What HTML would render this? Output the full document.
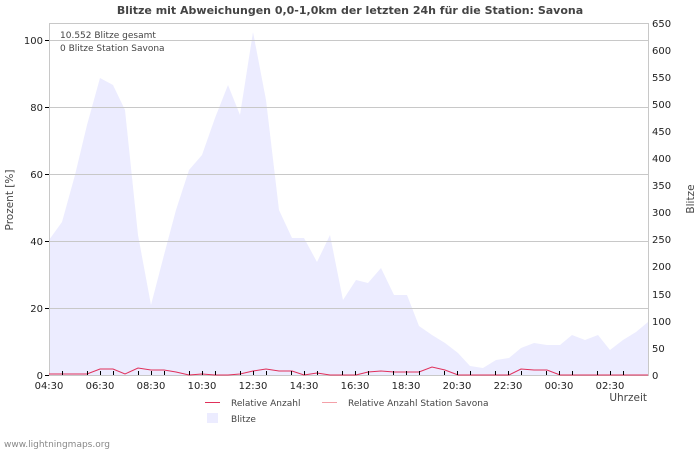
<!DOCTYPE html>
<html><head><meta charset="utf-8"><style>
body{margin:0;background:#fff;}
svg text{font-family:"DejaVu Sans","Liberation Sans",sans-serif;}
</style></head><body>
<svg width="700" height="450" viewBox="0 0 700 450" xmlns="http://www.w3.org/2000/svg">
<rect width="700" height="450" fill="#fff"/>
<text x="350" y="14" font-size="11" font-weight="bold" fill="#444" text-anchor="middle">Blitze mit Abweichungen 0,0-1,0km der letzten 24h für die Station: Savona</text>
<polygon fill="#ececff" points="49,375 49,240 62,222 75,175 87,125 100,78 113,85 125,110 138,235 151,305 164,255 176,210 189,170 202,155 215,118 228,85 240,115 253,32 266,100 279,210 292,238 304,238 317,262 330,235 343,300 356,280 368,283 381,268 394,295 407,295 419,326 432,335 445,343 458,353 470,366 483,368 496,360 509,358 521,348 534,343 547,345 560,345 572,335 585,340 598,335 610,350 623,340 636,332 648,322 648,375"/>
<g stroke="#c8c8c8" stroke-width="1">
<line x1="49" y1="40.5" x2="648" y2="40.5"/><line x1="49" y1="107.5" x2="648" y2="107.5"/><line x1="49" y1="174.5" x2="648" y2="174.5"/><line x1="49" y1="241.5" x2="648" y2="241.5"/><line x1="49" y1="308.5" x2="648" y2="308.5"/>
</g>
<rect x="49.5" y="23.5" width="599" height="352" fill="none" stroke="#c8c8c8"/>
<polyline fill="none" stroke="#e0305a" stroke-width="1" points="49,374 62,374 75,374 87,374 100,369 113,369 125,374 138,368 151,370 164,370 176,372 189,375 202,374 215,375 228,375 240,374 253,371 266,369 279,371 292,371 304,375 317,373 330,375 343,375 356,375 368,372 381,371 394,372 407,372 419,372 432,367 445,370 458,375 470,375 483,375 496,375 509,375 521,369 534,370 547,370 560,375 572,375 585,375 598,375 610,375 623,375 636,375 648,375"/>
<g stroke="#000" stroke-width="1">
<line x1="45" y1="40.5" x2="49" y2="40.5"/><line x1="45" y1="107.5" x2="49" y2="107.5"/><line x1="45" y1="174.5" x2="49" y2="174.5"/><line x1="45" y1="241.5" x2="49" y2="241.5"/><line x1="45" y1="308.5" x2="49" y2="308.5"/><line x1="45" y1="375.5" x2="49" y2="375.5"/>
<path d="M62.5,371v4M87.5,371v4M100.5,371v4M113.5,371v4M138.5,371v4M151.5,371v4M164.5,371v4M189.5,371v4M202.5,371v4M215.5,371v4M240.5,371v4M253.5,371v4M266.5,371v4M291.5,371v4M304.5,371v4M317.5,371v4M342.5,371v4M355.5,371v4M368.5,371v4M393.5,371v4M406.5,371v4M419.5,371v4M444.5,371v4M457.5,371v4M470.5,371v4M495.5,371v4M508.5,371v4M521.5,371v4M546.5,371v4M559.5,371v4M572.5,371v4M597.5,371v4M610.5,371v4M623.5,371v4"/>
</g>
<g font-size="10" fill="#222" text-anchor="end">
<text x="43" y="44">100</text><text x="43" y="111">80</text><text x="43" y="178">60</text><text x="43" y="245">40</text><text x="43" y="312">20</text><text x="43" y="379">0</text>
</g>
<g font-size="10" fill="#222">
<text x="652" y="27">650</text><text x="652" y="54">600</text><text x="652" y="81">550</text><text x="652" y="108">500</text><text x="652" y="135">450</text><text x="652" y="162">400</text><text x="652" y="189">350</text><text x="652" y="216">300</text><text x="652" y="243">250</text><text x="652" y="270">200</text><text x="652" y="298">150</text><text x="652" y="325">100</text><text x="652" y="352">50</text><text x="652" y="379">0</text>
</g>
<g font-size="10" fill="#222" text-anchor="middle">
<text x="49" y="389">04:30</text><text x="100" y="389">06:30</text><text x="151" y="389">08:30</text><text x="202" y="389">10:30</text><text x="253" y="389">12:30</text><text x="304" y="389">14:30</text><text x="355" y="389">16:30</text><text x="406" y="389">18:30</text><text x="457" y="389">20:30</text><text x="508" y="389">22:30</text><text x="559" y="389">00:30</text><text x="610" y="389">02:30</text>
</g>
<text x="647" y="401" font-size="10.5" fill="#444" text-anchor="end">Uhrzeit</text>
<text x="13" y="200" font-size="10.5" fill="#444" text-anchor="middle" transform="rotate(-90 13 200)">Prozent   [%]</text>
<text x="694" y="199" font-size="10.5" fill="#444" text-anchor="middle" transform="rotate(-90 694 199)">Blitze</text>
<text x="60" y="38" font-size="9" fill="#444">10.552 Blitze gesamt</text>
<text x="60" y="51" font-size="9" fill="#444">0 Blitze Station Savona</text>
<line x1="205" y1="402.5" x2="220" y2="402.5" stroke="#e0305a"/>
<text x="231" y="406" font-size="9" fill="#444">Relative Anzahl</text>
<line x1="322" y1="402.5" x2="337" y2="402.5" stroke="#f4a0a8"/>
<text x="348" y="406" font-size="9" fill="#444">Relative Anzahl Station Savona</text>
<rect x="207" y="413" width="11" height="10" fill="#ececff"/>
<text x="231" y="422" font-size="9" fill="#444">Blitze</text>
<text x="4" y="447" font-size="9" fill="#888">www.lightningmaps.org</text>
</svg>
</body></html>
